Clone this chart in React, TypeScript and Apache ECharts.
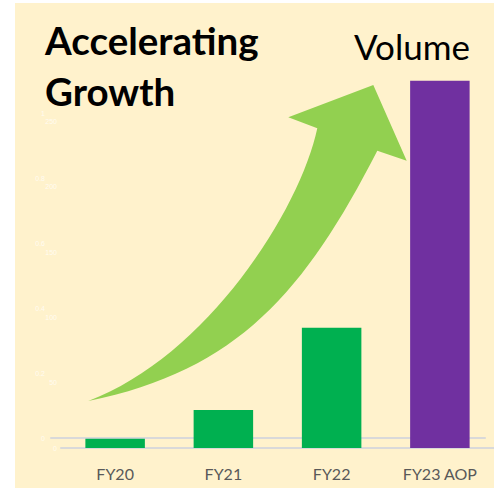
import React, { useEffect, useRef } from "react";
import * as echarts from "echarts";

const categories = ["FY20", "FY21", "FY22", "FY23 AOP"];
const volumes = [7, 29, 92, 281];
const barColors = ["#00B050", "#00B050", "#00B050", "#7030A0"];
const volumeTicks = [0, 50, 100, 150, 200, 250];
const ratioTicks = [0, 0.2, 0.4, 0.6, 0.8, 1];
const titleLines = ["Accelerating", "Growth"];
const seriesName = "Volume";

const ARROW_D =
  "M88.3 401 C206.7 356.7 300 210 317.3 128.3 L288.3 117.3 L373.3 85 L406.7 160.7 L377.3 150.7 C305 291.1 238.4 370.4 88.3 401 Z";

let registered = false;
function ensureShape() {
  if (registered) return;
  echarts.graphic.registerShape("growthArrow", echarts.graphic.extendPath(ARROW_D, {}) as any);
  registered = true;
}

export default function App() {
  const ref = useRef<HTMLDivElement>(null);
  useEffect(() => {
    if (!ref.current) return;
    ensureShape();
    const chart = echarts.init(ref.current, undefined, { renderer: "svg" });
    const faint = "rgba(255,255,255,0.75)";
    chart.setOption({
      animation: false,
      backgroundColor: "#ffffff",
      grid: [
        { left: 61, top: 56, width: 435, height: 392 },
        { left: 51, top: 113, width: 434, height: 325 },
      ],
      xAxis: [
        {
          type: "category",
          gridIndex: 0,
          data: categories,
          axisLine: { lineStyle: { color: "#d9d9d9", width: 2 } },
          axisTick: { show: false },
          axisLabel: { color: "#595959", fontSize: 16, fontFamily: "Lato", margin: 17 },
        },
        {
          type: "category",
          gridIndex: 1,
          data: [""],
          axisLine: { lineStyle: { color: "#d9d9d9", width: 2 } },
          axisTick: { show: false },
          axisLabel: { show: false },
        },
      ],
      yAxis: [
        {
          type: "value",
          gridIndex: 0,
          min: 0,
          max: 300,
          interval: 50,
          splitLine: { show: false },
          axisLine: { show: false },
          axisLabel: {
            color: faint,
            fontSize: 7,
            margin: 4,
            formatter: (v: number) => (volumeTicks.includes(v) ? String(v) : ""),
          },
        },
        {
          type: "value",
          gridIndex: 1,
          min: 0,
          max: 1,
          interval: 0.2,
          splitLine: { show: false },
          axisLine: { show: false },
          axisLabel: {
            color: faint,
            fontSize: 7,
            margin: 6,
            formatter: (v: number) => {
              const t = ratioTicks.find((r) => Math.abs(r - v) < 1e-6);
              return t === undefined ? "" : String(t);
            },
          },
        },
      ],
      series: [
        {
          name: seriesName,
          type: "bar",
          xAxisIndex: 0,
          yAxisIndex: 0,
          barWidth: 59.5,
          data: volumes.map((v, i) => ({ value: v, itemStyle: { color: barColors[i] } })),
          z: 2,
        },
        {
          type: "bar",
          xAxisIndex: 1,
          yAxisIndex: 1,
          data: [],
        },
      ],
      graphic: [
        {
          type: "rect",
          z: -1,
          silent: true,
          shape: { x: 15, y: 3, width: 479, height: 485 },
          style: { fill: "#FFF2CC" },
        },
        {
          type: "growthArrow",
          x: 0,
          y: 0,
          z: 5,
          silent: true,
          style: { fill: "#92D050" },
        },
        {
          type: "text",
          x: 45,
          y: 40,
          z: 10,
          style: {
            text: titleLines[0],
            font: "bold 38.5px Lato",
            fill: "#000000",
            align: "left",
            verticalAlign: "middle",
          },
        },
        {
          type: "text",
          x: 45,
          y: 91,
          z: 10,
          style: {
            text: titleLines[1],
            font: "bold 38.5px Lato",
            fill: "#000000",
            align: "left",
            verticalAlign: "middle",
          },
        },
        {
          type: "text",
          x: 354,
          y: 46,
          z: 10,
          style: {
            text: seriesName,
            font: "35px Lato",
            fill: "#000000",
            align: "left",
            verticalAlign: "middle",
          },
        },
      ],
    });
    return () => chart.dispose();
  }, []);
  return (
    <div
      ref={ref}
      style={{ position: "fixed", left: 0, top: 0, width: 494, height: 488 }}
    />
  );
}
